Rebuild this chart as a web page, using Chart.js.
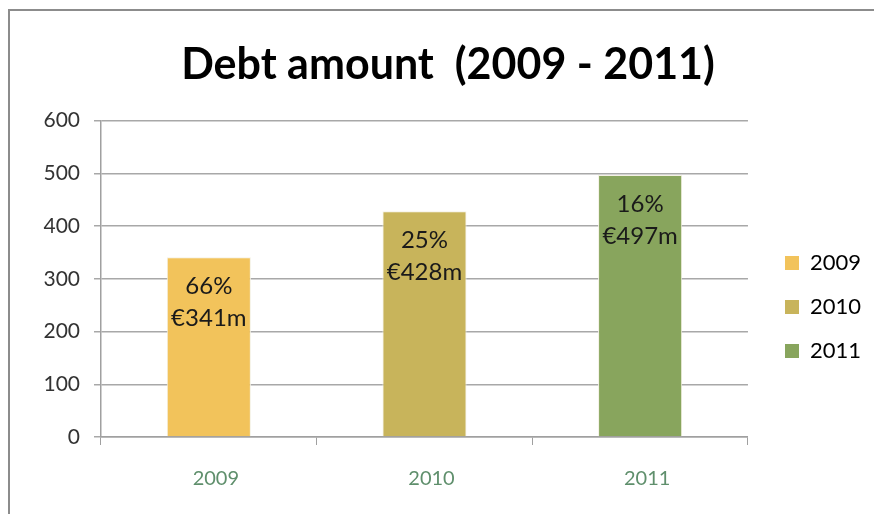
<!DOCTYPE html>
<html>
<head>
<meta charset="utf-8">
<script src="https://cdn.jsdelivr.net/npm/chart.js@4.4.0/dist/chart.umd.min.js"></script>
<style>
  html, body { margin: 0; padding: 0; background: #fff; }
  #wrap { width: 874px; height: 514px; position: relative; }
</style>
</head>
<body>
<div id="wrap"><canvas id="debtChart"></canvas></div>
<script>
const years = ['2009', '2010', '2011'];
const debt = [341, 428, 497];
const shares = ['66%', '25%', '16%'];
const amounts = ['€341m', '€428m', '€497m'];
const colors = ['#F2C35B', '#C8B45B', '#88A55D'];
const yTicks = [0, 100, 200, 300, 400, 500, 600];

const FONT = 'Lato, "Open Sans", sans-serif';

// frame line on top and left, like the pasted excel chart
const framePlugin = {
  id: 'frame',
  beforeDraw(chart) {
    const ctx = chart.ctx;
    ctx.save();
    ctx.strokeStyle = '#8c8c8c';
    ctx.lineWidth = 2;
    ctx.beginPath();
    ctx.moveTo(9, 514);
    ctx.lineTo(9, 10);
    ctx.lineTo(874, 10);
    ctx.stroke();
    ctx.restore();
  },
  // nudge the legend and title to where excel put them
  afterLayout(chart) {
    const lg = chart.legend;
    const dx = 787 - (lg.left + 24);
    lg.left += dx; lg.right += dx;
    lg.top += 50; lg.bottom += 50;
    const tb = chart.titleBlock;
    const tx = 448 - (tb.left + tb.right) / 2;
    tb.left += tx; tb.right += tx;
  }
};

// two line labels inside each bar
const barLabels = {
  id: 'barLabels',
  afterDatasetsDraw(chart) {
    const ctx = chart.ctx;
    const meta = chart.getDatasetMeta(0);
    ctx.save();
    ctx.font = '24px ' + FONT;
    ctx.fillStyle = '#1a1a1a';
    ctx.textAlign = 'center';
    ctx.textBaseline = 'middle';
    meta.data.forEach((bar, i) => {
      ctx.fillText(shares[i], bar.x, bar.y + 29);
      ctx.fillText(amounts[i], bar.x, bar.y + 61);
    });
    ctx.restore();
  }
};

new Chart(document.getElementById('debtChart').getContext('2d'), {
  type: 'bar',
  data: {
    labels: years,
    datasets: [{
      label: 'Debt',
      data: debt,
      backgroundColor: colors,
      borderColor: '#f4f1e4',
      borderWidth: 1,
      barPercentage: 0.39,
      categoryPercentage: 1
    }]
  },
  options: {
    responsive: true,
    maintainAspectRatio: false,
    animation: false,
    layout: { padding: { left: 0, right: 18, top: 0, bottom: 0 } },
    plugins: {
      title: {
        display: true,
        text: 'Debt amount  (2009 - 2011)',
        color: '#000',
        font: { family: FONT, size: 43, weight: 'bold' },
        padding: { top: 39, bottom: 30 }
      },
      legend: {
        position: 'right',
        labels: {
          color: '#1a1a1a',
          font: { family: FONT, size: 22 },
          boxWidth: 14,
          boxHeight: 14,
          padding: 22,
          generateLabels: () => years.map((y, i) => ({
            text: y,
            fillStyle: colors[i],
            strokeStyle: colors[i],
            lineWidth: 0,
            index: i
          }))
        }
      },
      tooltip: { enabled: false }
    },
    scales: {
      x: {
        grid: { offset: true, drawOnChartArea: false, drawTicks: true, tickLength: 8, color: '#a0a0a0' },
        border: { color: '#a0a0a0', width: 1.5 },
        ticks: { color: '#5f8f6c', font: { family: FONT, size: 20 }, padding: 22, labelOffset: 7 },
        afterFit: s => { s.height = 77; }
      },
      y: {
        min: 0,
        max: 600,
        afterBuildTicks: s => { s.ticks = yTicks.map(v => ({ value: v })); },
        grid: { color: '#a8a8a8', lineWidth: 1.5, tickLength: 7 },
        border: { color: '#a0a0a0', width: 1.5 },
        ticks: { color: '#333', font: { family: FONT, size: 21 }, padding: 14 },
        afterFit: s => { s.width = 101; }
      }
    }
  },
  plugins: [framePlugin, barLabels]
});
</script>
</body>
</html>
